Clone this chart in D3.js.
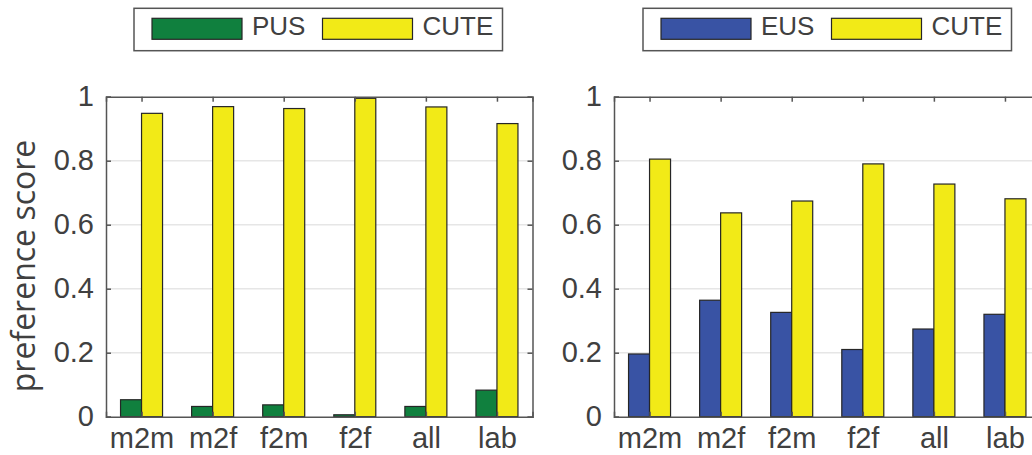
<!DOCTYPE html>
<html>
<head>
<meta charset="utf-8">
<script src="https://cdn.jsdelivr.net/npm/d3@7"></script>
<style>
  html, body { margin: 0; padding: 0; background: #fff; }
  svg { display: block; }
  text { font-family: "Liberation Sans", Arial, Helvetica, sans-serif; fill: #404040; }
</style>
</head>
<body>
<svg id="chart" width="1032" height="455"></svg>
<script>
// Conditions compared in both panels
const categories = ["m2m", "m2f", "f2m", "f2f", "all", "lab"];

// Left panel: PUS vs CUTE preference scores
const pusValues   = [0.053, 0.032, 0.037, 0.006, 0.032, 0.083];
const cuteLeft    = [0.948, 0.969, 0.963, 0.995, 0.968, 0.916];

// Right panel: EUS vs CUTE preference scores
const eusValues   = [0.196, 0.364, 0.326, 0.210, 0.274, 0.320];
const cuteRight   = [0.805, 0.637, 0.674, 0.790, 0.727, 0.681];

const yTicks = [0, 0.2, 0.4, 0.6, 0.8, 1];
const yTickLabels = ["0", "0.2", "0.4", "0.6", "0.8", "1"];
const yLabel = "preference score";

const COLORS = { PUS: "#10803e", EUS: "#3953a4", CUTE: "#f2ea17" };

const svg = d3.select("#chart");

const panels = [
  { left: 106, names: ["PUS", "CUTE"], series: [pusValues, cuteLeft], legendX: 134, showYLabel: true },
  { left: 614, names: ["EUS", "CUTE"], series: [eusValues, cuteRight], legendX: 643, showYLabel: false }
];

const plotW = 426.5, plotTop = 96.7, plotBottom = 416.7;
const barW = 21;
const axisColor = "#555";

panels.forEach(p => {
  const g = svg.append("g");
  const x = d3.scalePoint().domain(categories).range([p.left, p.left + plotW]).padding(0.5);
  const y = d3.scaleLinear().domain([0, 1]).range([plotBottom, plotTop]);

  // horizontal grid
  g.append("g").selectAll("line")
    .data(yTicks.filter(t => t > 0 && t < 1))
    .join("line")
    .attr("x1", p.left).attr("x2", p.left + plotW)
    .attr("y1", d => y(d)).attr("y2", d => y(d))
    .attr("stroke", "#e6e6e6").attr("stroke-width", 1.5);

  // bars
  p.series.forEach((vals, si) => {
    g.append("g").selectAll("rect")
      .data(categories.map((c, i) => ({ c, v: vals[i] })))
      .join("rect")
      .attr("x", d => x(d.c) + (si === 0 ? -barW : 0))
      .attr("width", barW)
      .attr("y", d => y(d.v))
      .attr("height", d => y(0) - y(d.v))
      .attr("fill", COLORS[p.names[si]])
      .attr("stroke", "#262626").attr("stroke-width", 1.2);
  });

  // axes: labelled left/bottom, tick-only right/top
  const ya = g.append("g").attr("transform", `translate(${p.left},0)`)
    .call(d3.axisLeft(y).tickValues(yTicks).tickFormat((d, i) => yTickLabels[i]).tickSize(-5).tickPadding(12));
  const ya2 = g.append("g").attr("transform", `translate(${p.left + plotW},0)`)
    .call(d3.axisRight(y).tickValues(yTicks).tickSize(-5).tickFormat(""));
  const xa = g.append("g").attr("transform", `translate(0,${plotBottom})`)
    .call(d3.axisBottom(x).tickSize(-5).tickPadding(11));
  const xa2 = g.append("g").attr("transform", `translate(0,${plotTop})`)
    .call(d3.axisTop(x).tickSize(-5).tickFormat(""));

  [ya, ya2, xa, xa2].forEach(a => {
    a.selectAll(".domain").attr("stroke", axisColor).attr("stroke-width", 1.5);
    a.selectAll(".tick line").attr("stroke", axisColor).attr("stroke-width", 1.5);
    a.selectAll("text").style("font-family", "\"Liberation Sans\", Arial, sans-serif")
      .attr("font-size", 29).attr("fill", "#444");
  });

  if (p.showYLabel) {
    g.append("text")
      .attr("transform", "translate(35,266) rotate(-90)")
      .attr("text-anchor", "middle")
      .attr("font-size", 32)
      .style("font-family", "\"Open Sans\", \"Liberation Sans\", sans-serif")
      .attr("fill", "#333")
      .text(yLabel);
  }

  // legend
  const lg = g.append("g").attr("transform", `translate(${p.legendX},8.3)`);
  lg.append("rect").attr("width", 368.5).attr("height", 42.4)
    .attr("fill", "#fff").attr("stroke", axisColor).attr("stroke-width", 1.5);
  const itemX = [18, 188.5];
  p.names.forEach((n, i) => {
    lg.append("rect").attr("x", itemX[i]).attr("y", 10).attr("width", 90).attr("height", 21)
      .attr("fill", COLORS[n]).attr("stroke", "#262626").attr("stroke-width", 1.2);
    lg.append("text").attr("x", itemX[i] + 100).attr("y", 26.7)
      .attr("font-size", 26).attr("fill", "#262626").text(n);
  });
});
</script>
</body>
</html>
